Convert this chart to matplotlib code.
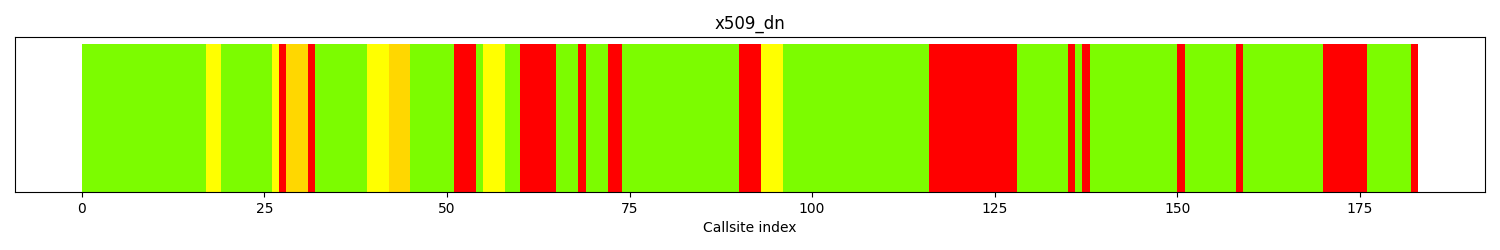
import numpy as np
import matplotlib
matplotlib.use("Agg")
import matplotlib.pyplot as plt

# Run-length encoded status of callsites (in order, starting at index 0)
run_status = ["green", "yellow", "green", "yellow", "red", "gold", "red", "green",
              "yellow", "gold", "green", "red", "green", "yellow", "green", "red",
              "green", "red", "green", "red", "green", "red", "yellow", "green",
              "red", "green", "red", "green", "red", "green", "red", "green",
              "red", "green", "red", "green", "red"]
run_lengths = [17, 2, 7, 1, 1, 3, 1, 7,
               3, 3, 6, 3, 1, 3, 2, 5,
               3, 1, 3, 2, 16, 3, 3, 20,
               12, 7, 1, 1, 1, 12, 1, 7,
               1, 11, 6, 6, 1]
status_colors = {"green": "#7CFC00", "yellow": "#FFFF00", "gold": "#FFD700", "red": "#FF0000"}

statuses = np.repeat(run_status, run_lengths)
indices = np.arange(len(statuses))
colors = [status_colors[s] for s in statuses]

fig, ax = plt.subplots(figsize=(15, 2.5), dpi=100)
ax.bar(indices, np.ones(len(indices)), width=1, align="edge", color=colors, linewidth=0)
ax.set_yticks([])
ax.set_title("x509_dn")
ax.set_xlabel("Callsite index")
fig.subplots_adjust(left=0.01, right=0.99, top=0.852, bottom=0.232)
fig.savefig("out.png")
